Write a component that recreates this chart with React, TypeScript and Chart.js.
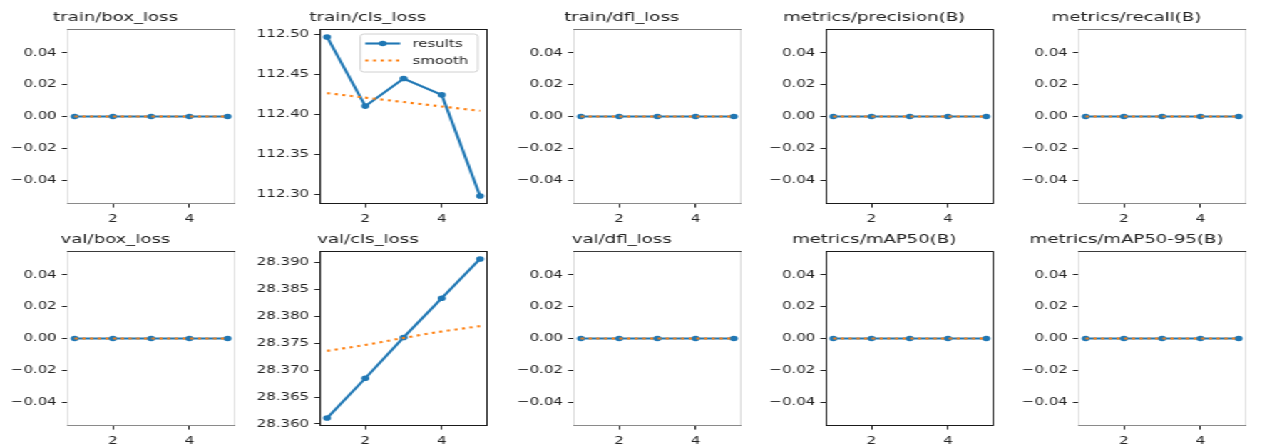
import React, { useEffect, useRef } from 'react';
import { Chart, registerables } from 'chart.js';

Chart.register(...registerables);

// ---------------- data ----------------
const epochs = [1, 2, 3, 4, 5];

const panelTitles = [
  'train/box_loss',
  'train/cls_loss',
  'train/dfl_loss',
  'metrics/precision(B)',
  'metrics/recall(B)',
  'val/box_loss',
  'val/cls_loss',
  'val/dfl_loss',
  'metrics/mAP50(B)',
  'metrics/mAP50-95(B)',
];

const trainBoxLoss = [0, 0, 0, 0, 0];
const trainBoxSmooth = [0, 0, 0, 0, 0];
const trainClsLoss = [112.4965, 112.41, 112.4445, 112.424, 112.2975];
const trainClsSmooth = [112.4262, 112.4206, 112.4151, 112.4095, 112.4041];
const trainDflLoss = [0, 0, 0, 0, 0];
const trainDflSmooth = [0, 0, 0, 0, 0];
const precisionB = [0, 0, 0, 0, 0];
const precisionSmooth = [0, 0, 0, 0, 0];
const recallB = [0, 0, 0, 0, 0];
const recallSmooth = [0, 0, 0, 0, 0];
const valBoxLoss = [0, 0, 0, 0, 0];
const valBoxSmooth = [0, 0, 0, 0, 0];
const valClsLoss = [28.3611, 28.3685, 28.3761, 28.3834, 28.3907];
const valClsSmooth = [28.3736, 28.3747, 28.376, 28.3772, 28.3782];
const valDflLoss = [0, 0, 0, 0, 0];
const valDflSmooth = [0, 0, 0, 0, 0];
const map50B = [0, 0, 0, 0, 0];
const map50Smooth = [0, 0, 0, 0, 0];
const map5095B = [0, 0, 0, 0, 0];
const map5095Smooth = [0, 0, 0, 0, 0];

const xTickValues = [2, 4];
const xTickLabels = ['2', '4'];
const zeroTickValues = [-0.04, -0.02, 0, 0.02, 0.04];
const zeroTickLabels = ['\u22120.04', '\u22120.02', '0.00', '0.02', '0.04'];
const trainClsTickValues = [112.3, 112.35, 112.4, 112.45, 112.5];
const trainClsTickLabels = ['112.30', '112.35', '112.40', '112.45', '112.50'];
const valClsTickValues = [28.36, 28.365, 28.37, 28.375, 28.38, 28.385, 28.39];
const valClsTickLabels = ['28.360', '28.365', '28.370', '28.375', '28.380', '28.385', '28.390'];

const seriesLabels = ['results', 'smooth'];

// ---------------- styling / layout ----------------
const BLUE = '#1f77b4';
const ORANGE = '#ff7f0e';
const TEXT = '#222222';
const FONT = '"DejaVu Sans", "Liberation Sans", sans-serif';
const SX = 1272 / 892; // horizontal stretch of the reference image
const BASE_W = 892;
const PLOT_W = 118;
const PLOT_H = 175;
const Y_AXIS_W = 50;
const X_AXIS_H = 25;
const TITLE_H = 19;
const RIGHT_PAD = 6;
const TICK_SIZE = 10.5;
const TITLE_SIZE = 12.7;
const colLefts = [47, 224.25, 401.5, 578.75, 756];
const rowTops = [29, 251];

type PanelDef = {
  title: string;
  results: number[];
  smooth: number[];
  ticks: number[];
  labels: string[];
  dark: boolean;
  legend: boolean;
};

const seriesPairs: [number[], number[]][] = [
  [trainBoxLoss, trainBoxSmooth],
  [trainClsLoss, trainClsSmooth],
  [trainDflLoss, trainDflSmooth],
  [precisionB, precisionSmooth],
  [recallB, recallSmooth],
  [valBoxLoss, valBoxSmooth],
  [valClsLoss, valClsSmooth],
  [valDflLoss, valDflSmooth],
  [map50B, map50Smooth],
  [map5095B, map5095Smooth],
];

const panels: PanelDef[] = panelTitles.map((title, i) => {
  const isTrainCls = i === 1;
  const isValCls = i === 6;
  return {
    title,
    results: seriesPairs[i][0],
    smooth: seriesPairs[i][1],
    ticks: isTrainCls ? trainClsTickValues : isValCls ? valClsTickValues : zeroTickValues,
    labels: isTrainCls ? trainClsTickLabels : isValCls ? valClsTickLabels : zeroTickLabels,
    dark: i === 1 || i === 3 || i === 6 || i === 8,
    legend: isTrainCls,
  };
});

function yLimits(a: number[], b: number[]): [number, number] {
  let lo = Math.min(...a, ...b);
  let hi = Math.max(...a, ...b);
  if (hi - lo === 0) {
    const e = lo === 0 ? 0.05 : Math.abs(lo) * 0.05;
    lo -= e;
    hi += e;
  }
  const m = (hi - lo) * 0.05;
  return [lo - m, hi + m];
}

const framePlugin = {
  id: 'frame',
  afterDraw(chart: any, _args: any, opts: any) {
    const { left, right, top, bottom } = chart.chartArea;
    const ctx = chart.ctx;
    ctx.save();
    ctx.lineWidth = 1;
    const side = (c: string, x1: number, y1: number, x2: number, y2: number) => {
      ctx.strokeStyle = c;
      ctx.beginPath();
      ctx.moveTo(x1, y1);
      ctx.lineTo(x2, y2);
      ctx.stroke();
    };
    side(opts.left, left + 0.5, top, left + 0.5, bottom);
    side(opts.right, right - 0.5, top, right - 0.5, bottom);
    side(opts.bottom, left, bottom - 0.5, right, bottom - 0.5);
    side(opts.top, left, top + 0.5, right, top + 0.5);
    ctx.restore();
  },
};

const innerLegendPlugin = {
  id: 'innerLegend',
  afterDraw(chart: any, _args: any, opts: any) {
    if (!opts.display) return;
    const ctx = chart.ctx;
    const ca = chart.chartArea;
    const sets = chart.data.datasets;
    ctx.save();
    ctx.font = `${TICK_SIZE}px ${FONT}`;
    const textW = Math.max(...sets.map((d: any) => ctx.measureText(d.label).width));
    const padL = 3.5, sampleW = 24.5, gap = 8.5, padR = 6.5, rowH = 17, padT = 9.5;
    const w = padL + sampleW + gap + textW + padR;
    const h = 38;
    const x0 = ca.right - 7 - w;
    const y0 = ca.top + 5;
    ctx.fillStyle = 'rgba(255,255,255,0.8)';
    ctx.strokeStyle = '#d0d0d0';
    ctx.lineWidth = 1;
    ctx.beginPath();
    ctx.roundRect(x0, y0, w, h, 2.5);
    ctx.fill();
    ctx.stroke();
    sets.forEach((d: any, i: number) => {
      const cy = y0 + padT + i * rowH;
      ctx.strokeStyle = d.borderColor;
      ctx.lineWidth = d.borderWidth;
      ctx.setLineDash(d.borderDash || []);
      ctx.beginPath();
      ctx.moveTo(x0 + padL, cy);
      ctx.lineTo(x0 + padL + sampleW, cy);
      ctx.stroke();
      ctx.setLineDash([]);
      if (d.pointRadius > 0) {
        ctx.fillStyle = d.pointBackgroundColor;
        ctx.beginPath();
        ctx.arc(x0 + padL + sampleW / 2, cy, d.pointRadius, 0, Math.PI * 2);
        ctx.fill();
      }
      ctx.fillStyle = TEXT;
      ctx.textBaseline = 'middle';
      ctx.textAlign = 'left';
      ctx.fillText(d.label, x0 + padL + sampleW + gap, cy + 0.5);
    });
    ctx.restore();
  },
};

function Panel({ p, plotLeft, plotTop, row }: { p: PanelDef; plotLeft: number; plotTop: number; row: number }) {
  const ref = useRef<HTMLCanvasElement>(null);
  useEffect(() => {
    const [lo, hi] = yLimits(p.results, p.smooth);
    const tickFont = { family: FONT, size: TICK_SIZE };
    const frame = p.dark
      ? { top: '#1a1a1a', bottom: '#1a1a1a', left: '#1a1a1a', right: '#1a1a1a' }
      : { top: row === 0 ? '#777777' : '#3a3a3a', bottom: '#8a8a8a', left: '#dedede', right: '#dedede' };
    const chart = new Chart(ref.current as HTMLCanvasElement, {
      type: 'line',
      data: {
        datasets: [
          {
            label: seriesLabels[0],
            data: epochs.map((x, i) => ({ x, y: p.results[i] })),
            borderColor: BLUE,
            backgroundColor: BLUE,
            borderWidth: 2.1,
            pointRadius: 2.8,
            pointBorderWidth: 0,
            pointBackgroundColor: BLUE,
            pointBorderColor: BLUE,
            tension: 0,
            order: 1,
          },
          {
            label: seriesLabels[1],
            data: epochs.map((x, i) => ({ x, y: p.smooth[i] })),
            borderColor: ORANGE,
            backgroundColor: ORANGE,
            borderWidth: 2.1,
            borderDash: [2.2, 3.2],
            pointRadius: 0,
            tension: 0.4,
            cubicInterpolationMode: 'monotone',
            order: 0,
          },
        ] as any,
      },
      options: {
        responsive: false,
        animation: false,
        events: [],
        layout: { padding: { right: RIGHT_PAD, left: 0, top: 0, bottom: 0 } },
        plugins: {
          legend: { display: false },
          tooltip: { enabled: false },
          title: {
            display: true,
            text: p.title,
            color: TEXT,
            font: { family: FONT, size: TITLE_SIZE, weight: 'normal', lineHeight: 15 / TITLE_SIZE },
            padding: { top: 0, bottom: TITLE_H - 15 },
          },
          frame,
          innerLegend: { display: p.legend },
        } as any,
        scales: {
          x: {
            type: 'linear',
            min: 0.8,
            max: 5.2,
            bounds: 'data',
            afterBuildTicks: (s: any) => {
              s.ticks = xTickValues.map((v) => ({ value: v }));
            },
            afterFit: (s: any) => {
              s.height = X_AXIS_H;
            },
            ticks: {
              autoSkip: false,
              maxRotation: 0,
              padding: 5.5,
              color: TEXT,
              font: tickFont,
              callback: (_v: any, i: number) => xTickLabels[i],
            },
            grid: {
              display: true,
              drawOnChartArea: false,
              drawTicks: true,
              tickLength: 3.6,
              tickColor: '#222',
              tickWidth: 1,
            },
            border: { display: false },
          },
          y: {
            type: 'linear',
            min: lo,
            max: hi,
            bounds: 'data',
            afterBuildTicks: (s: any) => {
              s.ticks = p.ticks.map((v) => ({ value: v }));
            },
            afterFit: (s: any) => {
              s.width = Y_AXIS_W;
            },
            ticks: {
              autoSkip: false,
              padding: 3.6,
              color: TEXT,
              font: tickFont,
              callback: (_v: any, i: number) => p.labels[i],
            },
            grid: {
              display: true,
              drawOnChartArea: false,
              drawTicks: true,
              tickLength: 3.6,
              tickColor: '#222',
              tickWidth: 1,
            },
            border: { display: false },
          },
        } as any,
      },
      plugins: [framePlugin, innerLegendPlugin] as any,
    });
    return () => chart.destroy();
  }, [p, row]);
  const w = Y_AXIS_W + PLOT_W + RIGHT_PAD;
  const h = TITLE_H + PLOT_H + X_AXIS_H;
  return (
    <canvas
      ref={ref}
      width={w}
      height={h}
      style={{ position: 'absolute', left: plotLeft - Y_AXIS_W, top: plotTop - TITLE_H, width: w, height: h }}
    />
  );
}

export default function App() {
  return (
    <div
      style={{
        position: 'absolute',
        left: 0,
        top: 0,
        width: BASE_W,
        height: 446,
        overflow: 'hidden',
        background: '#ffffff',
        transform: `scaleX(${SX})`,
        transformOrigin: '0 0',
      }}
    >
      {panels.map((p, i) => {
        const row = Math.floor(i / 5);
        const col = i % 5;
        return <Panel key={p.title} p={p} row={row} plotLeft={colLefts[col]} plotTop={rowTops[row]} />;
      })}
    </div>
  );
}
